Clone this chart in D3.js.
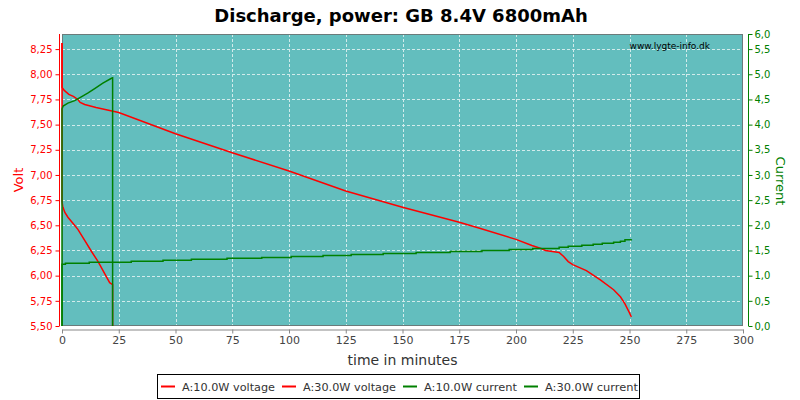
<!DOCTYPE html>
<html>
<head>
<meta charset="utf-8">
<script src="https://cdn.jsdelivr.net/npm/d3@7"></script>
<style>
  html, body { margin: 0; padding: 0; background: #ffffff; }
  svg { display: block; font-family: "DejaVu Sans", Verdana, sans-serif; }
</style>
</head>
<body>
<svg id="chart" width="800" height="400"></svg>
<script>
// ---- data ----
const title = "Discharge, power: GB 8.4V 6800mAh";
const seriesNames = ["A:10.0W voltage", "A:30.0W voltage", "A:10.0W current", "A:30.0W current"];
const xTicks = [0, 25, 50, 75, 100, 125, 150, 175, 200, 225, 250, 275, 300];
const voltTicks = [5.5, 5.75, 6.0, 6.25, 6.5, 6.75, 7.0, 7.25, 7.5, 7.75, 8.0, 8.25];
const currentTickLabels = ["0,0","0,5","1,0","1,5","2,0","2,5","3,0","3,5","4,0","4,5","5,0","5,5","6,0"];

const v10Time = [0, 0, 1, 2, 3, 5, 7, 8, 10, 15, 21, 25, 50, 75, 100, 125, 150, 175, 184, 200, 207, 211, 213, 216, 219, 221, 223, 225, 231, 237, 243, 246, 248, 250, 250.8];
const v10Volt = [8.31, 7.87, 7.84, 7.82, 7.80, 7.78, 7.75, 7.72, 7.70, 7.67, 7.64, 7.62, 7.41, 7.22, 7.04, 6.84, 6.68, 6.53, 6.47, 6.36, 6.30, 6.27, 6.25, 6.24, 6.23, 6.19, 6.14, 6.11, 6.05, 5.96, 5.86, 5.79, 5.72, 5.63, 5.59];

const v30Time = [0, 0, 0.3, 1.2, 2.6, 4.8, 7, 10, 13, 15.9, 18.8, 21, 22.3, 22.3];
const v30Volt = [8.31, 6.74, 6.69, 6.63, 6.58, 6.52, 6.46, 6.35, 6.24, 6.14, 6.02, 5.93, 5.91, 5.5];

const i10Time = [0, 0, 1.5, 12, 30.5, 44.5, 57, 72.7, 88, 101, 115, 127.4, 141.5, 156, 171, 185, 197, 207.4, 219, 223, 229, 234, 238, 243, 246, 248, 250.8];
const i10Amp = [0, 1.27, 1.29, 1.31, 1.33, 1.35, 1.37, 1.39, 1.41, 1.43, 1.45, 1.47, 1.49, 1.51, 1.53, 1.55, 1.57, 1.59, 1.62, 1.64, 1.66, 1.68, 1.70, 1.72, 1.74, 1.77, 1.78];

const i30Time = [0, 0, 0.5, 2.6, 5.6, 8.5, 11.5, 14.4, 18, 21.8, 22.3, 22.3];
const i30Amp = [0, 4.46, 4.52, 4.58, 4.63, 4.71, 4.79, 4.88, 4.99, 5.09, 5.10, 0];

// ---- layout ----
const svg = d3.select("#chart");
const L = 62, R = 743, T = 34, B = 326;
const red = "#ff0000", green = "#008000";

const x = d3.scaleLinear().domain([0, 300]).range([L, R]);
const yV = d3.scaleLinear().domain([5.5, 8.4]).range([B, T]);
const yI = d3.scaleLinear().domain([0, 6]).range([B, T]);

// title
svg.append("text").attr("x", 401).attr("y", 22).attr("text-anchor", "middle")
  .attr("font-size", 18).attr("font-weight", "bold").attr("fill", "#000").text(title);

// plot background
svg.append("rect").attr("x", L).attr("y", T).attr("width", R - L).attr("height", B - T)
  .attr("fill", "#63bebe");

// grid
const grid = svg.append("g").attr("stroke", "#e6f4f4").attr("stroke-width", 1)
  .attr("stroke-dasharray", "3,2").attr("opacity", 0.85);
grid.selectAll("line.h").data(voltTicks.filter(v => v > 5.5)).enter().append("line")
  .attr("x1", L).attr("x2", R).attr("y1", d => Math.round(yV(d)) + 0.5).attr("y2", d => Math.round(yV(d)) + 0.5);
grid.selectAll("line.v").data(xTicks.filter(t => t > 0 && t < 300)).enter().append("line")
  .attr("y1", T).attr("y2", B).attr("x1", d => Math.round(x(d)) + 0.5).attr("x2", d => Math.round(x(d)) + 0.5);

// plot border
svg.append("rect").attr("x", L + 0.5).attr("y", T + 0.5).attr("width", R - L - 1).attr("height", B - T - 1)
  .attr("fill", "none").attr("stroke", "#6b7b7b").attr("stroke-width", 1);

// watermark
svg.append("text").attr("x", 710).attr("y", 49).attr("text-anchor", "end")
  .attr("font-size", 9).attr("fill", "#000").text("www.lygte-info.dk");

// clip for lines
svg.append("clipPath").attr("id", "clip").append("rect")
  .attr("x", L - 1).attr("y", T).attr("width", R - L + 2).attr("height", B - T + 1);

const lines = svg.append("g").attr("clip-path", "url(#clip)").attr("fill", "none").attr("stroke-width", 1.5);
const mk = (ts, vs) => ts.map((t, i) => [t, vs[i]]);
const lineV = d3.line().x(d => x(d[0])).y(d => yV(d[1]));
const lineI = d3.line().x(d => x(d[0])).y(d => yI(d[1]));
const lineIStep = d3.line().x(d => x(d[0])).y(d => yI(d[1])).curve(d3.curveStepAfter);

lines.append("path").attr("d", lineV(mk(v10Time, v10Volt))).attr("stroke", red);
lines.append("path").attr("d", lineV(mk(v30Time, v30Volt))).attr("stroke", red);
lines.append("path").attr("d", lineIStep(mk(i10Time, i10Amp))).attr("stroke", green);
lines.append("path").attr("d", lineI(mk(i30Time, i30Amp))).attr("stroke", green);

// left axis (volt)
const leftAxis = d3.axisLeft(yV).tickValues(voltTicks).tickSize(4).tickSizeOuter(0)
  .tickFormat(d => d.toFixed(2).replace(".", ","));
const gl = svg.append("g").attr("transform", "translate(59.5,0)").call(leftAxis);
gl.select(".domain").attr("stroke", red).attr("d", `M0,${T}V${B}`);
gl.selectAll(".tick line").attr("stroke", red);
gl.selectAll(".tick text").attr("fill", red).attr("font-size", 10).attr("font-family", "DejaVu Sans, sans-serif").attr("x", -7);

// right axis (current) - labels placed on the voltage grid lines as in the reference
const yIaxis = d3.scaleLinear().domain([0, 12]).range([yV(5.5), yV(8.5)]);
const rightAxis = d3.axisRight(yIaxis).tickValues(d3.range(0, 13)).tickSize(4).tickSizeOuter(0)
  .tickFormat(i => currentTickLabels[i]);
const gr = svg.append("g").attr("transform", "translate(748.5,0)").call(rightAxis);
gr.selectAll(".tick").filter(i => i === 12).attr("transform", `translate(0,${T + 0.5})`);
gr.select(".domain").attr("stroke", green).attr("d", `M0,${T}V${B}`);
gr.selectAll(".tick line").attr("stroke", green);
gr.selectAll(".tick text").attr("fill", green).attr("font-size", 10).attr("font-family", "DejaVu Sans, sans-serif").attr("x", 6);

// bottom axis
const bottomAxis = d3.axisBottom(x).tickValues(xTicks).tickSize(4).tickSizeOuter(0).tickFormat(d => String(d));
const gb = svg.append("g").attr("transform", "translate(0,329.5)").call(bottomAxis);
gb.select(".domain").attr("stroke", "#888");
gb.selectAll(".tick line").attr("stroke", "#888");
gb.selectAll(".tick text").attr("fill", "#444").attr("font-size", 11).attr("font-family", "DejaVu Sans, sans-serif").attr("y", 7);

// axis titles
svg.append("text").attr("x", (L + R) / 2).attr("y", 365).attr("text-anchor", "middle")
  .attr("font-size", 14).attr("fill", "#333").text("time in minutes");
svg.append("text").attr("transform", "translate(23,180) rotate(-90)").attr("text-anchor", "middle")
  .attr("font-size", 13).attr("fill", red).text("Volt");
svg.append("text").attr("transform", "translate(776,181) rotate(90)").attr("text-anchor", "middle")
  .attr("font-size", 13).attr("fill", green).text("Current");

// legend
const lg = svg.append("g");
lg.append("rect").attr("x", 157.5).attr("y", 374.5).attr("width", 482).attr("height", 24)
  .attr("fill", "#fff").attr("stroke", "#000");
const legendX = [161, 282, 403, 524];
const legendColors = [red, red, green, green];
seriesNames.forEach((n, i) => {
  lg.append("line").attr("x1", legendX[i]).attr("x2", legendX[i] + 14).attr("y1", 386.5).attr("y2", 386.5)
    .attr("stroke", legendColors[i]).attr("stroke-width", 2);
  lg.append("text").attr("x", legendX[i] + 21).attr("y", 391).attr("font-size", 11.2).attr("fill", "#333")
    .attr("textLength", 93).attr("lengthAdjust", "spacingAndGlyphs").text(n);
});
</script>
</body>
</html>
